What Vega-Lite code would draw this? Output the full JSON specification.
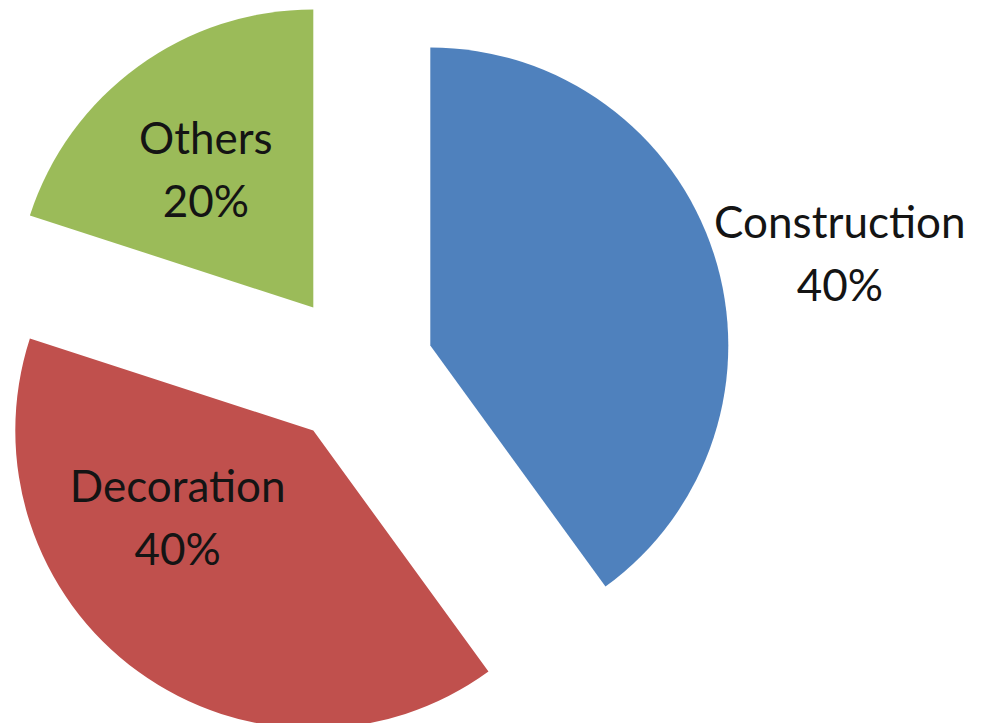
{
  "$schema": "https://vega.github.io/schema/vega-lite/v6.json",
  "autosize": "none",
  "width": 716,
  "height": 708,
  "padding": {"left": 0, "top": 15, "right": 285, "bottom": 0},
  "background": "white",
  "view": {"stroke": null},
  "data": {"values": [
    {"cat": "Construction", "value": 40},
    {"cat": "Decoration", "value": 40},
    {"cat": "Others", "value": 20}
  ]},
  "transform": [{"calculate": "[datum.cat, datum.value + '%']", "as": "label"}],
  "encoding": {
    "theta": {"field": "value", "type": "quantitative", "stack": true},
    "color": {
      "field": "cat", "type": "nominal",
      "scale": {"domain": ["Construction", "Decoration", "Others"], "range": ["#4F81BD", "#C0504D", "#9BBB59"]},
      "legend": null
    }
  },
  "layer": [
    {"mark": {"type": "arc", "radius": 298, "xOffset": 72.3, "yOffset": -23.5},
     "encoding": {"opacity": {"condition": {"test": "datum.cat === 'Construction'", "value": 1}, "value": 0}}},
    {"mark": {"type": "arc", "radius": 298, "xOffset": -44.7, "yOffset": 61.5},
     "encoding": {"opacity": {"condition": {"test": "datum.cat === 'Decoration'", "value": 1}, "value": 0}}},
    {"mark": {"type": "arc", "radius": 298, "xOffset": -44.7, "yOffset": -61.5},
     "encoding": {"opacity": {"condition": {"test": "datum.cat === 'Others'", "value": 1}, "value": 0}}},
    {"mark": {"type": "text", "radius": 418, "xOffset": 72.3, "yOffset": -23.5, "dx": 12, "dy": 9, "font": "Lato", "fontSize": 44, "lineHeight": 63},
     "encoding": {"color": {"value": "#141414"}, "text": {"condition": {"test": "datum.cat === 'Construction'", "field": "label"}, "value": ""}}},
    {"mark": {"type": "text", "radius": 149, "xOffset": -44.7, "yOffset": 61.5, "dx": -48, "dy": -62, "font": "Lato", "fontSize": 44, "lineHeight": 63},
     "encoding": {"color": {"value": "#141414"}, "text": {"condition": {"test": "datum.cat === 'Decoration'", "field": "label"}, "value": ""}}},
    {"mark": {"type": "text", "radius": 176, "xOffset": -44.7, "yOffset": -61.5, "dx": -4, "dy": -24, "font": "Lato", "fontSize": 44, "lineHeight": 63},
     "encoding": {"color": {"value": "#141414"}, "text": {"condition": {"test": "datum.cat === 'Others'", "field": "label"}, "value": ""}}}
  ]
}
